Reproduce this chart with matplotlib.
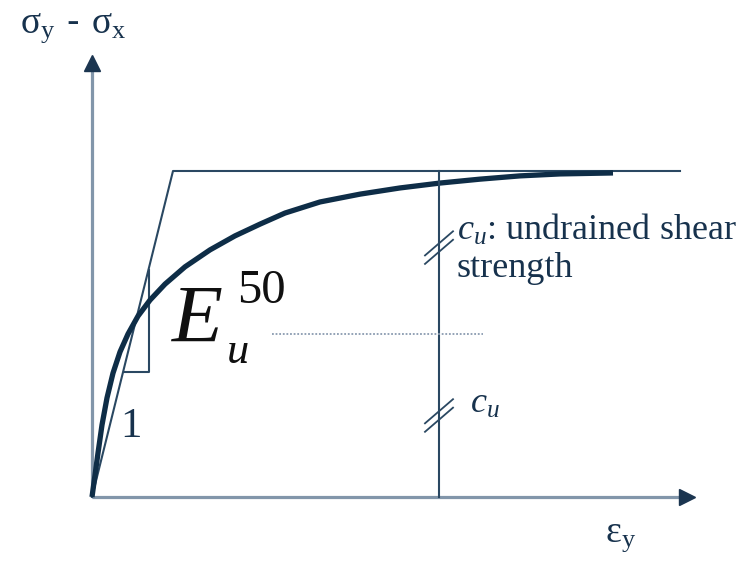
import numpy as np
import matplotlib.pyplot as plt

plt.rcParams['mathtext.fontset'] = 'custom'
plt.rcParams['mathtext.rm'] = 'Liberation Serif'
plt.rcParams['mathtext.it'] = 'Liberation Serif:italic'

# ---------------------------------------------------------------
# data (strain in arbitrary units, deviator stress normalised by 2cu)
# ---------------------------------------------------------------
eps_curve = [0.00, 0.03, 0.06, 0.10, 0.15, 0.21, 0.28, 0.36, 0.46, 0.58,
             0.73, 0.93, 1.18, 1.43, 1.68, 1.93, 2.28, 2.68, 3.08, 3.48,
             3.88, 4.28, 4.68, 5.21]
q_curve = [0.000, 0.067, 0.135, 0.221, 0.304, 0.380, 0.445, 0.500, 0.555, 0.604,
           0.653, 0.706, 0.758, 0.801, 0.837, 0.871, 0.905, 0.929, 0.948, 0.963,
           0.975, 0.985, 0.991, 0.994]

# bilinear idealisation
eps_bilin = [0.0, 0.81, 5.88]
q_bilin = [0.0, 1.0, 1.0]

# slope triangle for E50
tri_eps = [0.32, 0.57, 0.57]
tri_q = [0.383, 0.383, 0.696]

eps_cu = 3.47          # position of the cu dimension line
q_half = 0.5           # half of the peak (cu level)
half_eps = [1.80, 3.91]
tick_q = [0.765, 0.25]

eps_axis_end = 6.01
q_axis_end = 1.35

dark = '#1b3550'
line_c = '#2a4862'
axis_c = '#8296aa'
text_c = '#17324d'

fig = plt.figure(figsize=(7.46, 5.61), dpi=100)
ax = fig.add_axes([0, 0, 1, 1])
ax.set_xlim(-0.92, 6.54)
ax.set_ylim(-0.1963, 1.5245)
ax.axis('off')

# axes with arrow heads
ax.plot([0, eps_axis_end - 0.08], [0, 0], color=axis_c, lw=2.3, solid_capstyle='butt')
ax.plot([0, 0], [0, q_axis_end - 0.03], color=axis_c, lw=2.3, solid_capstyle='butt')
ax.plot(eps_axis_end - 0.06, 0, marker='>', color=dark, ms=11, mec=dark)
ax.plot(0, q_axis_end - 0.02, marker='^', color=dark, ms=11, mec=dark)

# bilinear model and slope triangle
ax.plot(eps_bilin, q_bilin, color=line_c, lw=1.5)
ax.plot(tri_eps, tri_q, color=line_c, lw=1.5)

# hyperbolic stress-strain curve
ax.plot(eps_curve, q_curve, color='#0e2d47', lw=3.8, solid_capstyle='butt',
        solid_joinstyle='round')

# cu dimension line, dotted half level
ax.plot([eps_cu, eps_cu], [0, 1.0], color=line_c, lw=1.5)
ax.plot(half_eps, [q_half, q_half], color='#8a9bb0', lw=1.3, linestyle=(0, (1, 1)))

# double ticks on the dimension line
for tq in tick_q:
    for off in (-0.013, 0.013):
        ax.plot([eps_cu - 0.14, eps_cu + 0.14],
                [tq + off - 0.037, tq + off + 0.037], color=line_c, lw=1.3)

# labels
ax.text(-0.72, 1.426, r'$\mathrm{\sigma_y}$ - $\mathrm{\sigma_x}$', fontsize=27,
        family='DejaVu Serif', color=text_c, ha='left', va='baseline')
ax.text(5.13, -0.138, r'$\mathrm{\varepsilon_y}$', fontsize=27,
        family='DejaVu Serif', color=text_c, ha='left', va='baseline')
ax.text(0.39, 0.184, '1', fontsize=31, family='Liberation Serif', color=text_c,
        ha='center', va='baseline')

ax.text(0.80, 0.475, 'E', fontsize=60, family='Liberation Serif', style='italic',
        color='#101010', ha='left', va='baseline')
ax.text(1.45, 0.595, '50', fontsize=35, family='Liberation Serif',
        color='#101010', ha='left', va='baseline')
ax.text(1.35, 0.411, 'u', fontsize=32, family='Liberation Serif', style='italic',
        color='#101010', ha='left', va='baseline')

ax.text(3.65, 0.788, r'$c_u$: undrained shear', fontsize=26, family='Liberation Serif',
        color=text_c, ha='left', va='baseline')
ax.text(3.65, 0.675, 'strength', fontsize=26, family='Liberation Serif',
        color=text_c, ha='left', va='baseline')
ax.text(3.78, 0.258, r'$c_u$', fontsize=26, family='Liberation Serif',
        color=text_c, ha='left', va='baseline')

fig.savefig('out.png', dpi=100)
